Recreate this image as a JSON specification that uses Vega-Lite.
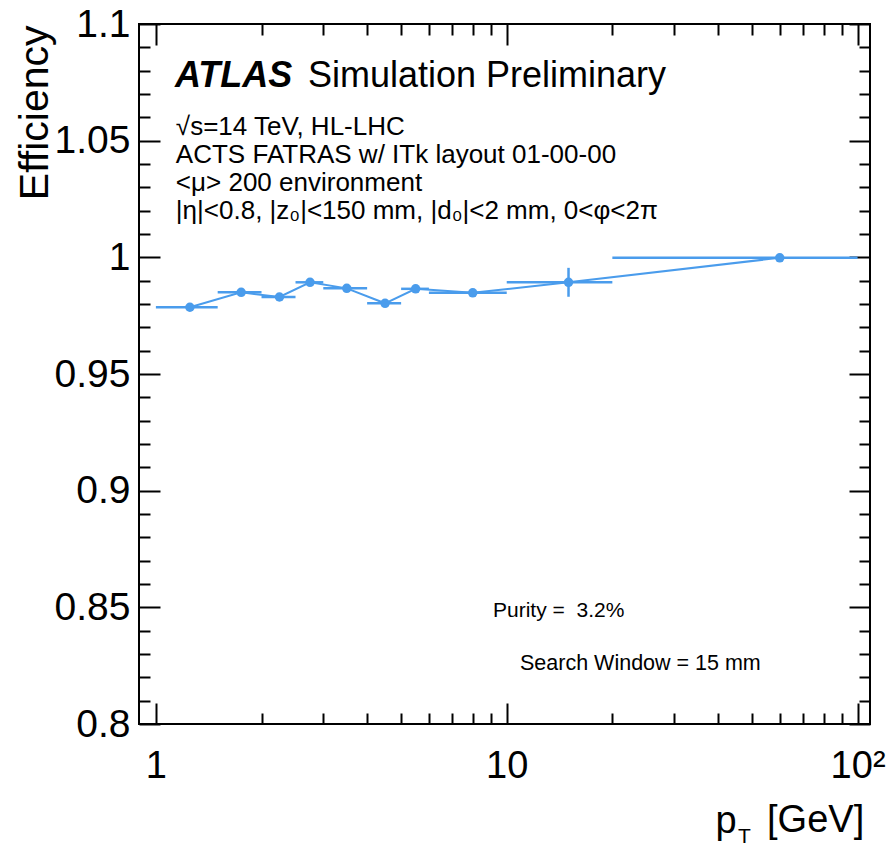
{
  "$schema": "https://vega.github.io/schema/vega-lite/v6.json",
  "width": 731,
  "height": 700,
  "autosize": "none",
  "padding": {"left": 139, "top": 24, "right": 17, "bottom": 124},
  "background": "white",
  "config": {
    "view": {"stroke": "#000", "strokeWidth": 2},
    "font": "Liberation Sans",
    "axis": {"domain": false, "grid": false, "tickColor": "#000", "tickWidth": 2, "labelFont": "Liberation Sans", "titleFont": "Liberation Sans", "labelColor": "#000", "titleColor": "#000", "titleFontWeight": "normal", "labelFlush": false, "labelOverlap": false}
  },
  "data": {
    "values": [
      {"pt": 1.25, "lo": 1, "hi": 1.5, "eff": 0.9786, "elo": 0.9773, "ehi": 0.9799},
      {"pt": 1.75, "lo": 1.5, "hi": 2, "eff": 0.985, "elo": 0.9838, "ehi": 0.9862},
      {"pt": 2.25, "lo": 2, "hi": 2.5, "eff": 0.983, "elo": 0.9817, "ehi": 0.9843},
      {"pt": 2.75, "lo": 2.5, "hi": 3, "eff": 0.9893, "elo": 0.9881, "ehi": 0.9905},
      {"pt": 3.5, "lo": 3, "hi": 4, "eff": 0.9867, "elo": 0.9857, "ehi": 0.9877},
      {"pt": 4.5, "lo": 4, "hi": 5, "eff": 0.9803, "elo": 0.9789, "ehi": 0.9817},
      {"pt": 5.5, "lo": 5, "hi": 6, "eff": 0.9865, "elo": 0.9854, "ehi": 0.9876},
      {"pt": 8, "lo": 6, "hi": 10, "eff": 0.9848, "elo": 0.9839, "ehi": 0.9857},
      {"pt": 15, "lo": 10, "hi": 20, "eff": 0.9893, "elo": 0.9831, "ehi": 0.9955},
      {"pt": 60, "lo": 20, "hi": 100, "eff": 0.9998, "elo": 0.9993, "ehi": 1.0003}
    ]
  },
  "layer": [
    {
      "mark": {"type": "rule", "color": "#4a9cec", "strokeWidth": 2.5},
      "encoding": {
        "x": {
          "field": "lo", "type": "quantitative",
          "scale": {"type": "log", "domain": [0.895, 108.5], "nice": false},
          "axis": {
            "orient": "bottom",
            "values": [1, 2, 3, 4, 5, 6, 7, 8, 9, 10, 20, 30, 40, 50, 60, 70, 80, 90, 100],
            "tickSize": {"condition": {"test": "indexof([1,10,100], datum.value) >= 0", "value": -21}, "value": -11},
            "labelExpr": "datum.value == 1 ? '1' : datum.value == 10 ? '10' : datum.value == 100 ? '10²' : ''",
            "labelFontSize": 38,
            "labelPadding": 74,
            "labelBaseline": "alphabetic",
            "title": "p",
            "titleFontSize": 38,
            "titleAlign": "left",
            "titleBaseline": "alphabetic",
            "titleX": 576,
            "titleY": 108
          }
        },
        "x2": {"field": "hi"},
        "y": {
          "field": "eff", "type": "quantitative",
          "scale": {"domain": [0.8, 1.1], "nice": false, "zero": false},
          "axis": {
            "orient": "left",
            "values": [0.8, 0.81, 0.82, 0.83, 0.84, 0.85, 0.86, 0.87, 0.88, 0.89, 0.9, 0.91, 0.92, 0.93, 0.94, 0.95, 0.96, 0.97, 0.98, 0.99, 1, 1.01, 1.02, 1.03, 1.04, 1.05, 1.06, 1.07, 1.08, 1.09, 1.1],
            "tickSize": {"condition": {"test": "abs(datum.value*20 - round(datum.value*20)) < 0.000001", "value": -21}, "value": -11},
            "labelExpr": "abs(datum.value*20 - round(datum.value*20)) < 0.000001 ? format(datum.value, '.2~f') : ''",
            "labelFontSize": 39,
            "labelPadding": 30,
            "labelAlign": "right",
            "labelBaseline": "middle",
            "title": "Efficiency",
            "titleFontSize": 41,
            "titleAngle": 270,
            "titleAlign": "right",
            "titleBaseline": "alphabetic",
            "titleX": -92,
            "titleY": 1
          }
        }
      }
    },
    {
      "mark": {"type": "rule", "color": "#4a9cec", "strokeWidth": 2.5},
      "encoding": {
        "x": {"field": "pt", "type": "quantitative", "axis": null},
        "y": {"field": "elo", "type": "quantitative", "axis": null},
        "y2": {"field": "ehi"}
      }
    },
    {
      "mark": {"type": "line", "color": "#4a9cec", "strokeWidth": 2},
      "encoding": {
        "x": {
          "field": "pt", "type": "quantitative",
          "axis": {
            "orient": "top",
            "values": [1, 2, 3, 4, 5, 6, 7, 8, 9, 10, 20, 30, 40, 50, 60, 70, 80, 90, 100],
            "tickSize": {"condition": {"test": "indexof([1,10,100], datum.value) >= 0", "value": -21}, "value": -11},
            "labels": false,
            "title": null
          }
        },
        "y": {
          "field": "eff", "type": "quantitative",
          "axis": {
            "orient": "right",
            "values": [0.8, 0.81, 0.82, 0.83, 0.84, 0.85, 0.86, 0.87, 0.88, 0.89, 0.9, 0.91, 0.92, 0.93, 0.94, 0.95, 0.96, 0.97, 0.98, 0.99, 1, 1.01, 1.02, 1.03, 1.04, 1.05, 1.06, 1.07, 1.08, 1.09, 1.1],
            "tickSize": {"condition": {"test": "abs(datum.value*20 - round(datum.value*20)) < 0.000001", "value": -21}, "value": -11},
            "labels": false,
            "title": null
          }
        }
      }
    },
    {
      "mark": {"type": "point", "filled": true, "size": 90, "color": "#4a9cec", "opacity": 1},
      "encoding": {
        "x": {"field": "pt", "type": "quantitative", "axis": null},
        "y": {"field": "eff", "type": "quantitative", "axis": null}
      }
    },
    {
      "data": {"values": [{}]},
      "mark": {"type": "text", "text": "ATLAS", "fontSize": 36, "fontWeight": "bold", "fontStyle": "italic", "align": "left", "baseline": "alphabetic", "color": "#000"},
      "encoding": {"x": {"datum": 1.133, "type": "quantitative", "axis": null}, "y": {"datum": 1.073, "type": "quantitative", "axis": null}}
    },
    {
      "data": {"values": [{}]},
      "mark": {"type": "text", "text": "Simulation Preliminary", "fontSize": 36, "align": "left", "baseline": "alphabetic", "color": "#000"},
      "encoding": {"x": {"datum": 2.713, "type": "quantitative", "axis": null}, "y": {"datum": 1.073, "type": "quantitative", "axis": null}}
    },
    {
      "data": {"values": [{}]},
      "mark": {"type": "text", "text": "√s=14 TeV, HL-LHC", "fontSize": 26, "align": "left", "baseline": "alphabetic", "color": "#000"},
      "encoding": {"x": {"datum": 1.14, "type": "quantitative", "axis": null}, "y": {"datum": 1.0525, "type": "quantitative", "axis": null}}
    },
    {
      "data": {"values": [{}]},
      "mark": {"type": "text", "text": "ACTS FATRAS w/ ITk layout 01-00-00", "fontSize": 26, "align": "left", "baseline": "alphabetic", "color": "#000"},
      "encoding": {"x": {"datum": 1.14, "type": "quantitative", "axis": null}, "y": {"datum": 1.0405, "type": "quantitative", "axis": null}}
    },
    {
      "data": {"values": [{}]},
      "mark": {"type": "text", "text": "<μ> 200 environment", "fontSize": 26, "align": "left", "baseline": "alphabetic", "color": "#000"},
      "encoding": {"x": {"datum": 1.14, "type": "quantitative", "axis": null}, "y": {"datum": 1.0285, "type": "quantitative", "axis": null}}
    },
    {
      "data": {"values": [{}]},
      "mark": {"type": "text", "text": "|η|<0.8, |z₀|<150 mm, |d₀|<2 mm, 0<φ<2π", "fontSize": 26, "align": "left", "baseline": "alphabetic", "color": "#000"},
      "encoding": {"x": {"datum": 1.14, "type": "quantitative", "axis": null}, "y": {"datum": 1.0165, "type": "quantitative", "axis": null}}
    },
    {
      "data": {"values": [{}]},
      "mark": {"type": "text", "text": "Purity =\u00a0\u00a03.2%", "fontSize": 21, "align": "left", "baseline": "alphabetic", "color": "#000"},
      "encoding": {"x": {"datum": 9.138, "type": "quantitative", "axis": null}, "y": {"datum": 0.8459, "type": "quantitative", "axis": null}}
    },
    {
      "data": {"values": [{}]},
      "mark": {"type": "text", "text": "Search Window = 15 mm", "fontSize": 21.5, "align": "left", "baseline": "alphabetic", "color": "#000"},
      "encoding": {"x": {"datum": 10.91, "type": "quantitative", "axis": null}, "y": {"datum": 0.8231, "type": "quantitative", "axis": null}}
    },
    {
      "data": {"values": [{}]},
      "mark": {"type": "text", "text": "T", "fontSize": 21, "align": "left", "baseline": "alphabetic", "color": "#000"},
      "encoding": {"x": {"datum": 45.6, "type": "quantitative", "axis": null}, "y": {"datum": 0.749, "type": "quantitative", "axis": null}}
    },
    {
      "data": {"values": [{}]},
      "mark": {"type": "text", "text": "[GeV]", "fontSize": 38, "align": "left", "baseline": "alphabetic", "color": "#000"},
      "encoding": {"x": {"datum": 55.2, "type": "quantitative", "axis": null}, "y": {"datum": 0.7537, "type": "quantitative", "axis": null}}
    }
  ],
  "resolve": {"axis": {"x": "independent", "y": "independent"}}
}
